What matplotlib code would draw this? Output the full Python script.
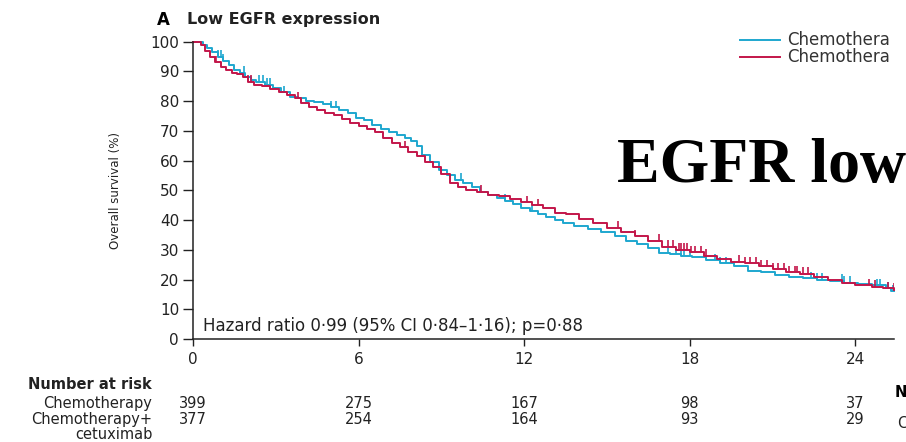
import numpy as np
import matplotlib.pyplot as plt

# Kaplan-Meier curves, low EGFR expression
chemo_t = [0, 0.35, 0.5, 0.7, 0.9, 1.1, 1.3, 1.5, 1.7, 1.9, 2.1, 2.3, 2.6, 2.9, 3.2,
           3.5, 3.8, 4.1, 4.4, 4.7, 5.0, 5.3, 5.6, 5.9, 6.2, 6.5, 6.8, 7.1, 7.4, 7.7,
           7.9, 8.1, 8.3, 8.6, 8.9, 9.2, 9.5, 9.8, 10.1, 10.4, 10.7, 11.0, 11.3, 11.6,
           11.9, 12.2, 12.5, 12.8, 13.1, 13.4, 13.8, 14.3, 14.8, 15.3, 15.7, 16.1,
           16.5, 16.9, 17.3, 17.7, 18.1, 18.6, 19.1, 19.6, 20.1, 20.6, 21.1, 21.6,
           22.1, 22.6, 23.1, 23.6, 24.1, 24.6, 25.1, 25.3, 25.4]
chemo_s = [100, 99, 98, 96.5, 95, 93.5, 92, 90.5, 89.5, 88, 87, 86.5, 85.5, 84.5, 83,
           81.5, 81, 80, 79.8, 79, 78, 77, 76, 74.5, 73.5, 72, 70.5, 69.5, 68.5, 67.5,
           66.5, 65, 62, 59.5, 57, 55, 53.5, 52.5, 51, 49.5, 48.5, 47.5, 46.5, 45.5,
           44, 43, 42, 41, 40, 39, 38, 37, 36, 34.5, 33, 32,
           30.5, 29, 28.5, 28, 27.5, 26.5, 25.5, 24.5, 23, 22.5, 21.5, 21,
           20.5, 20, 19.5, 19, 18.5, 18, 17, 16, 16]

cetux_t = [0, 0.3, 0.45, 0.6, 0.8, 1.0, 1.2, 1.4, 1.6, 1.8, 2.0, 2.2, 2.5, 2.8, 3.1,
           3.4, 3.7, 3.9, 4.2, 4.5, 4.8, 5.1, 5.4, 5.7, 6.0, 6.3, 6.6, 6.9, 7.2, 7.5,
           7.8, 8.1, 8.4, 8.7, 9.0, 9.3, 9.6, 9.9, 10.3, 10.7, 11.1, 11.5, 11.9, 12.3,
           12.7, 13.1, 13.5, 14.0, 14.5, 15.0, 15.5, 16.0, 16.5, 17.0, 17.5, 18.0,
           18.5, 19.0, 19.5, 20.0, 20.5, 21.0, 21.5, 22.0, 22.5, 23.0, 23.5, 24.0,
           24.6, 25.0, 25.4]
cetux_s = [100, 99, 97, 95, 93, 91.5, 90.5, 89.5, 89, 88, 86.5, 85.5, 85, 84, 83,
           82, 81, 79.5, 78, 77, 76, 75.5, 74, 72.5, 71.5, 70.5, 69.5, 67.5, 66, 64.5,
           63, 61.5, 59.5, 58, 55.5, 52.5, 51, 50, 49.5, 48.5, 48, 47, 46, 45,
           44, 42.5, 42, 40.5, 39, 37.5, 36, 34.5, 33, 31, 30, 29.2,
           28, 27, 26, 25.5, 24.5, 23.5, 22.5, 22, 21, 20, 19, 18,
           17.5, 17, 16.5]

chemo_cens = [0.9, 1.0, 1.1, 1.85, 2.4, 2.55, 2.7, 2.8, 3.3, 5.0, 5.2, 9.7, 11.3,
              12.3, 17.2, 17.5, 17.7, 17.8, 18.0, 18.9, 19.1, 19.3, 22.4, 22.6, 22.8,
              23.5, 23.6, 23.8, 24.8, 24.9, 25.2, 25.35]
cetux_cens = [0.85, 2.0, 2.1, 3.8, 7.7, 10.45, 12.1, 12.5, 15.4, 16.0, 16.9, 17.2,
              17.4, 17.6, 17.7, 17.8, 17.9, 18.05, 18.2, 18.4, 18.6, 19.8, 20.0, 20.2,
              20.4, 20.6, 20.8, 21.0, 21.2, 21.4, 21.6, 21.8, 21.9, 22.1, 22.3, 24.5,
              24.7, 25.2, 25.4]

risk_times = [0, 6, 12, 18, 24]
risk_chemo = [399, 275, 167, 98, 37]
risk_cetux = [377, 254, 164, 93, 29]

cyan = '#1ea7cf'
red = '#c3164a'
ink = '#222222'


def step_value(t, s, x):
    i = np.searchsorted(np.asarray(t), x, side='right') - 1
    return np.asarray(s)[i]


fig = plt.figure(figsize=(9.06, 4.42), dpi=100)
ax = fig.add_axes([0.213, 0.233, 0.7737, 0.6727])

for t, s, cens, col in [(chemo_t, chemo_s, chemo_cens, cyan),
                        (cetux_t, cetux_s, cetux_cens, red)]:
    ax.step(t, s, where='post', color=col, lw=1.4, clip_on=False)
    cy = step_value(t, s, cens)
    ax.vlines(cens, cy, cy + 2.2, color=col, lw=1.2)

ax.set_xlim(0, 25.4)
ax.set_ylim(0, 100)
ax.set_xticks(risk_times)
ax.set_yticks(np.arange(0, 101, 10))
ax.tick_params(axis='y', length=7, width=1, labelsize=11, pad=3, colors=ink)
ax.tick_params(axis='x', length=5, width=1, labelsize=11, pad=4, colors=ink)
for side in ['top', 'right']:
    ax.spines[side].set_visible(False)
for side in ['left', 'bottom']:
    ax.spines[side].set_linewidth(1.1)
    ax.spines[side].set_color(ink)

ax.text(0.015, 0.045, 'Hazard ratio 0\u00b799 (95% CI 0\u00b784\u20131\u00b716); p=0\u00b788',
        transform=ax.transAxes, fontsize=12, color=ink, va='center')

fig.text(0.127, 0.57, 'Overall survival (%)', rotation=90, fontsize=8.5,
         ha='center', va='center', color=ink)

# panel title
fig.text(0.173, 0.955, 'A', fontsize=12, fontweight='bold', ha='left', va='center')
fig.text(0.206, 0.955, 'Low EGFR expression', fontsize=11.5, fontweight='bold',
         ha='left', va='center', color=ink)

# legend
fig.text(0.8687, 0.909, 'Chemothera', fontsize=12, ha='left', va='center', color='#333333')
fig.text(0.8687, 0.872, 'Chemothera', fontsize=12, ha='left', va='center', color='#333333')
fig.add_artist(plt.Line2D([0.817, 0.861], [0.909, 0.909], color=cyan, lw=1.4))
fig.add_artist(plt.Line2D([0.817, 0.861], [0.872, 0.872], color=red, lw=1.4))

fig.text(0.681, 0.588, 'EGFR low', fontsize=46, fontweight='bold',
         family='Liberation Serif', ha='left', va='baseline', color='black')

# number at risk table
rows_y = [0.131, 0.088, 0.050, 0.016]
fig.text(0.168, rows_y[0], 'Number at risk', fontsize=10.5, fontweight='bold',
         ha='right', va='center', color=ink)
fig.text(0.168, rows_y[1], 'Chemotherapy', fontsize=10.5, ha='right', va='center', color=ink)
fig.text(0.168, rows_y[2], 'Chemotherapy+', fontsize=10.5, ha='right', va='center', color=ink)
fig.text(0.168, rows_y[3], 'cetuximab', fontsize=10.5, ha='right', va='center', color=ink)
for t, a, b in zip(risk_times, risk_chemo, risk_cetux):
    xf = fig.transFigure.inverted().transform(ax.transData.transform((t, 0)))[0]
    fig.text(xf, rows_y[1], str(a), fontsize=10.5, ha='center', va='center', color=ink)
    fig.text(xf, rows_y[2], str(b), fontsize=10.5, ha='center', va='center', color=ink)

# fragments of the neighbouring panel at the right edge
fig.text(0.987, 0.113, 'N', fontsize=10.5, fontweight='bold', ha='left', va='center')
fig.text(0.99, 0.042, 'C', fontsize=10.5, ha='left', va='center', color=ink)

fig.savefig('out.png', dpi=100)
